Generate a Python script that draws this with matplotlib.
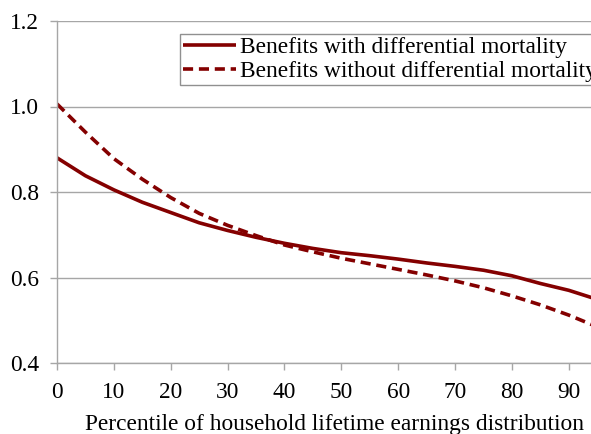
import matplotlib
matplotlib.use("Agg")
import matplotlib.pyplot as plt

percentile = [0, 5, 10, 15, 20, 25, 30, 35, 40, 45, 50, 55, 60, 65, 70, 75, 80, 85, 90, 94]
with_diff = [0.880, 0.838, 0.805, 0.776, 0.752, 0.728, 0.710, 0.694, 0.680, 0.668,
             0.658, 0.651, 0.643, 0.634, 0.626, 0.617, 0.604, 0.586, 0.570, 0.553]
without_diff = [1.006, 0.940, 0.878, 0.830, 0.787, 0.750, 0.722, 0.698, 0.676, 0.660,
                0.645, 0.632, 0.619, 0.606, 0.592, 0.576, 0.557, 0.536, 0.512, 0.490]
xticks = [0, 10, 20, 30, 40, 50, 60, 70, 80, 90]
yticks = [0.4, 0.6, 0.8, 1.0, 1.2]
labels = ["Benefits with differential mortality", "Benefits without differential mortality"]
xlabel = "Percentile of household lifetime earnings distribution"

plt.rcParams['font.family'] = ['Liberation Serif', 'DejaVu Serif']
color = '#840000'
gray = '#a6a6a6'
fs = 16.8

fig = plt.figure(figsize=(5.91, 4.34), dpi=100)
ax = fig.add_axes([57/591, 71/434, 1 - 57/591, 342/434])

ax.plot(percentile, with_diff, color=color, lw=2.6, label=labels[0], solid_capstyle='butt')
ax.plot(percentile, without_diff, color=color, lw=2.6, label=labels[1],
        dashes=(2.8, 1.6), dash_capstyle='butt')

ax.set_xlim(0, 93.9)
ax.set_ylim(0.4, 1.2)
ax.set_xticks(xticks)
ax.set_yticks(yticks)
ax.set_yticklabels([f"{v:.1f}" for v in yticks])
ax.grid(axis='y', color=gray, lw=1.0)
ax.set_axisbelow(True)
for s in ['top', 'right']:
    ax.spines[s].set_visible(False)
for s in ['left', 'bottom']:
    ax.spines[s].set_color(gray)
    ax.spines[s].set_linewidth(1.0)
ax.tick_params(axis='both', colors=gray, length=5, width=1.0, labelcolor='black',
               labelsize=fs, direction='out')
ax.tick_params(axis='x', pad=8.5)
ax.tick_params(axis='y', pad=8)
ax.set_xlabel(xlabel, fontsize=fs)
ax.xaxis.label.set_va('baseline')
ax.xaxis.set_label_coords(0.519, (363 - 430) / 342)

leg = ax.legend(loc='upper left', bbox_to_anchor=(0.2303, 0.962), fontsize=fs,
                frameon=True, fancybox=False, edgecolor='#909090', framealpha=1,
                handlelength=2.3, handletextpad=0.15, borderpad=0.12, labelspacing=0.1,
                borderaxespad=0)
leg.get_frame().set_linewidth(1.0)
leg.set_clip_on(False)

fig.savefig("out.png", dpi=100)
